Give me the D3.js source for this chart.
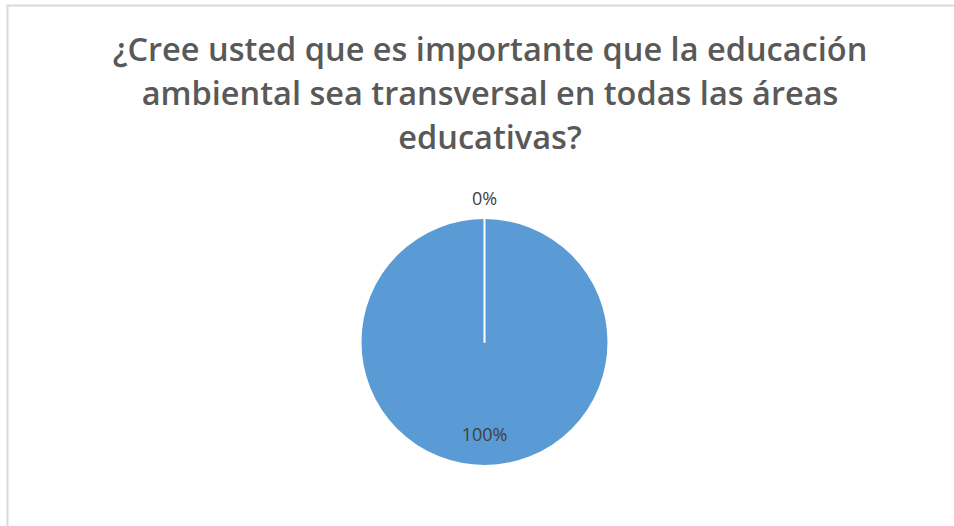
<!DOCTYPE html>
<html>
<head>
<meta charset="utf-8">
<script src="https://cdn.jsdelivr.net/npm/d3@7"></script>
<style>
  html, body { margin: 0; padding: 0; background: #fff; }
  svg { display: block; }
</style>
</head>
<body>
<svg id="chart" width="954" height="526"></svg>
<script>
const titleLines = ["¿Cree usted que es importante que la educación", "ambiental sea transversal en todas las áreas", "educativas?"];
const categories = ["Sí", "No"];
const values = [100, 0];
const labels = ["100%", "0%"];

const svg = d3.select("#chart");
const W = 954, H = 526;

// chart area border
svg.append("rect")
  .attr("x", 7.5).attr("y", 5.5)
  .attr("width", 990).attr("height", 560)
  .attr("fill", "#fff")
  .attr("stroke", "#d9d9d9").attr("stroke-width", 2);

// title
const titleFont = "'Open Sans', 'Liberation Sans', sans-serif";
const title = svg.append("g");
const ys = [61, 105, 149];
titleLines.forEach((t, i) => {
  title.append("text")
    .attr("x", 490).attr("y", ys[i])
    .attr("text-anchor", "middle")
    .attr("font-family", titleFont)
    .attr("font-weight", 600)
    .attr("font-size", 26)
    .attr("fill", "#595959")
    .text(t);
});
// scale font so first line spans ~755px
const first = title.select("text").node();
const len = first.getComputedTextLength();
const fs = 26 * 755 / len;
title.selectAll("text").attr("font-size", fs);

const cx = 484.5, cy = 342, r = 124;
const pie = d3.pie().sort(null).value(d => d)(values);
const arc = d3.arc().innerRadius(0).outerRadius(r);
const g = svg.append("g").attr("transform", `translate(${cx},${cy})`);
g.selectAll("path").data(pie).enter().append("path")
  .attr("d", arc)
  .attr("fill", "#5b9bd5")
  .attr("stroke", "#fff")
  .attr("stroke-width", 2)
  .attr("stroke-linejoin", "round");

const inside = d3.arc().innerRadius(r * 0.74).outerRadius(r * 0.74);
const outside = d3.arc().innerRadius(r * 1.16).outerRadius(r * 1.16);
g.selectAll("text.lbl").data(pie).enter().append("text")
  .attr("class", "lbl")
  .attr("transform", d => {
    const c = d.value > 0 ? inside.centroid(d) : outside.centroid(d);
    return `translate(${c[0]},${c[1]})`;
  })
  .attr("text-anchor", "middle")
  .attr("dominant-baseline", "central")
  .attr("font-family", "'Open Sans', 'Liberation Sans', sans-serif")
  .attr("font-size", 18)
  .attr("fill", "#404040")
  .text((d, i) => labels[i]);
</script>
</body>
</html>
